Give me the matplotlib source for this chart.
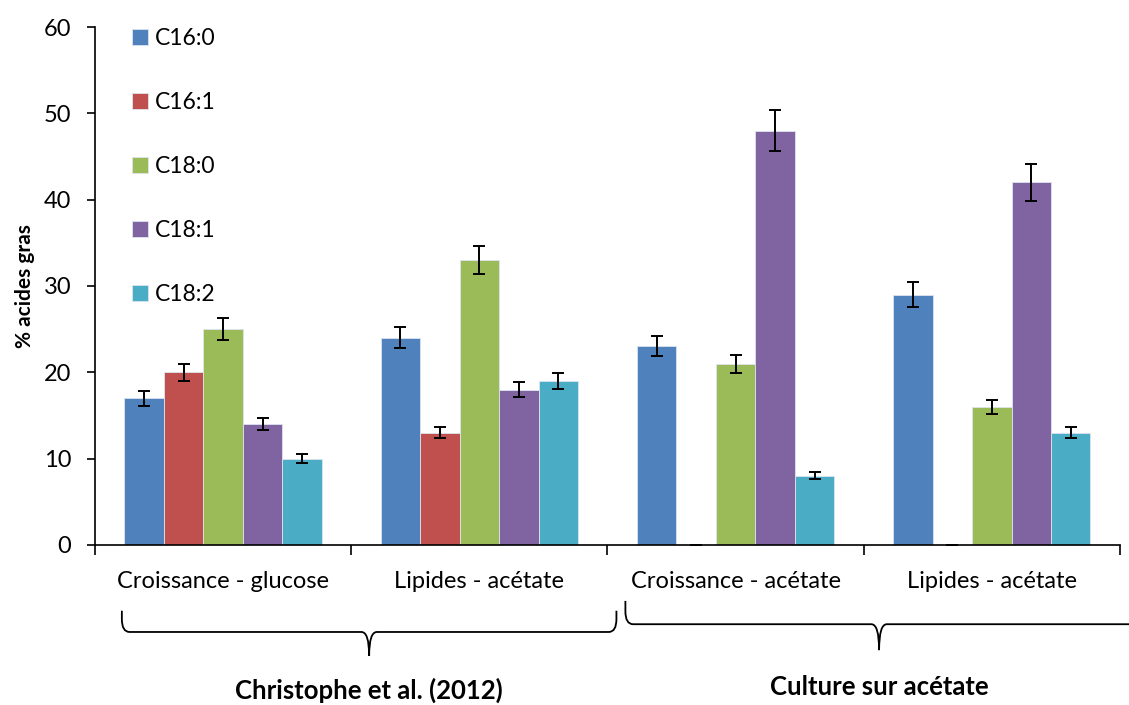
import numpy as np
import matplotlib
matplotlib.use("Agg")
import matplotlib.pyplot as plt
from matplotlib.path import Path
from matplotlib.patches import PathPatch
import matplotlib.transforms as mtransforms

plt.rcParams['font.family'] = ['Lato', 'DejaVu Sans']

# data
categories = ["Croissance - glucose", "Lipides - acétate", "Croissance - acétate", "Lipides - acétate"]
series = ["C16:0", "C16:1", "C18:0", "C18:1", "C18:2"]
values = {
    "C16:0": [17, 24, 23, 29],
    "C16:1": [20, 13, 0, 0],
    "C18:0": [25, 33, 21, 16],
    "C18:1": [14, 18, 48, 42],
    "C18:2": [10, 19, 8, 13],
}
errors = {
    "C16:0": [0.85, 1.2, 1.15, 1.45],
    "C16:1": [1.0, 0.65, 0, 0],
    "C18:0": [1.25, 1.65, 1.05, 0.8],
    "C18:1": [0.7, 0.9, 2.4, 2.1],
    "C18:2": [0.5, 0.95, 0.4, 0.65],
}
colors = ["#4F81BD", "#C0504D", "#9BBB59", "#8064A2", "#4BACC6"]
group_labels = ["Christophe et al. (2012)", "Culture sur acétate"]

fig = plt.figure(figsize=(11.29, 7.05), dpi=100)
ax = fig.add_axes([0.0841, 0.227, 0.9079, 0.7347])

x = np.arange(len(categories))
w = 0.154
for i, s in enumerate(series):
    ax.bar(x + (i - 2) * w, values[s], w, color=colors[i], edgecolor="#dde4ee",
           linewidth=0.6, label=s, zorder=2)
    ax.errorbar(x + (i - 2) * w, values[s], yerr=errors[s], fmt="none",
                ecolor="black", elinewidth=1.4, capsize=4.5, capthick=1.4, zorder=3)

ax.set_xlim(-0.5, 3.5)
ax.set_ylim(0, 60)
ax.set_yticks(range(0, 61, 10))
ax.tick_params(axis="y", direction="out", length=6, width=1.2, labelsize=17, pad=11)
ax.set_xticks(np.arange(-0.5, 3.6, 1))
ax.set_xticklabels([])
ax.tick_params(axis="x", which="major", direction="out", length=7, width=1.2)
ax.set_xticks(x, minor=True)
ax.set_xticklabels(categories, minor=True, fontsize=17)
ax.tick_params(axis="x", which="minor", length=0, pad=19)
for sp in ["top", "right"]:
    ax.spines[sp].set_visible(False)
for sp in ["left", "bottom"]:
    ax.spines[sp].set_linewidth(1.2)
ax.set_ylabel("% acides gras", fontsize=15, fontweight="bold", labelpad=6)

ax.legend(loc="upper left", bbox_to_anchor=(0.025, 1.02), frameon=False,
          fontsize=16.5, labelspacing=1.88, handlelength=0.7, handleheight=0.7,
          handletextpad=0.3, borderpad=0)

# braces under grouped categories
trans = mtransforms.blended_transform_factory(ax.transData, ax.transAxes)

def brace(x0, x1, xm, ytop, yh, ytip):
    rx, ry = 0.03, 0.025
    verts = [(x0, ytop), (x0, yh + ry), (x0, yh), (x0 + rx, yh),
             (xm - rx, yh), (xm, yh), (xm, ytip),
             (xm, yh), (xm + rx, yh),
             (x1 - rx, yh), (x1, yh), (x1, yh + ry), (x1, ytop)]
    codes = [Path.MOVETO, Path.LINETO, Path.CURVE3, Path.CURVE3,
             Path.LINETO, Path.CURVE3, Path.CURVE3,
             Path.CURVE3, Path.CURVE3,
             Path.LINETO, Path.CURVE3, Path.CURVE3, Path.LINETO]
    p = PathPatch(Path(verts, codes), transform=trans, fill=False,
                  edgecolor="black", linewidth=1.3, clip_on=False)
    ax.add_patch(p)

brace(-0.395, 1.535, 0.57, -0.127, -0.168, -0.214)
brace(1.57, 3.7, 2.56, -0.108, -0.153, -0.203)
ax.text(0.57, -0.28, group_labels[0], transform=trans, ha="center", va="center",
        fontsize=18.5, fontweight="bold")
ax.text(2.56, -0.275, group_labels[1], transform=trans, ha="center", va="center",
        fontsize=18.5, fontweight="bold")

fig.savefig("out.png", dpi=100)
